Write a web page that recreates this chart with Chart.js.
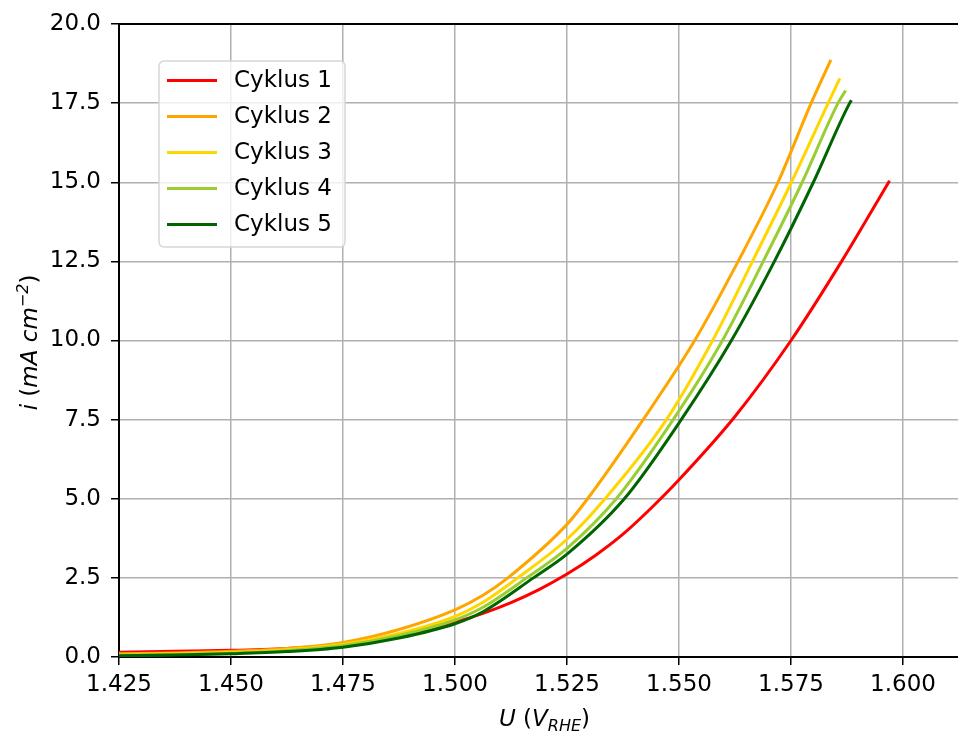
<!DOCTYPE html>
<html>
<head>
<meta charset="utf-8">
<script src="https://cdn.jsdelivr.net/npm/chart.js@4.4.0/dist/chart.umd.min.js"></script>
<style>
  html, body { margin: 0; padding: 0; background: #fff; }
</style>
</head>
<body>
<canvas id="lsv" width="958" height="731"></canvas>
<script>
// cycle names and colours
var cycleNames = ['Cyklus 1', 'Cyklus 2', 'Cyklus 3', 'Cyklus 4', 'Cyklus 5'];
var cycleColors = ['#ff0000', '#ffa500', '#ffd700', '#9acd32', '#006400'];

// potential U (V vs RHE) and current density i (mA cm^-2)
var u1 = [1.425, 1.4375, 1.45, 1.4625, 1.475, 1.4875, 1.5, 1.50625, 1.5125, 1.51875, 1.525, 1.53125, 1.5375, 1.54375, 1.55, 1.5625, 1.575, 1.5863, 1.597];
var i1 = [0.15, 0.18, 0.21, 0.27, 0.39, 0.68, 1.10, 1.38, 1.72, 2.13, 2.62, 3.20, 3.88, 4.70, 5.60, 7.60, 10.0, 12.5, 15.05];

var u2 = [1.425, 1.4375, 1.45, 1.4625, 1.475, 1.4875, 1.5, 1.50625, 1.5118, 1.525, 1.5296, 1.5420, 1.5535, 1.5632, 1.5721, 1.5795, 1.5839];
var i2 = [0.10, 0.13, 0.18, 0.27, 0.46, 0.87, 1.49, 1.95, 2.5, 4.19, 5.0, 7.5, 10.0, 12.5, 15.0, 17.5, 18.87];

var u3 = [1.425, 1.4375, 1.45, 1.4625, 1.475, 1.4875, 1.5, 1.50625, 1.5140, 1.525, 1.5335, 1.5472, 1.5575, 1.5664, 1.5751, 1.5833, 1.5859];
var i3 = [0.07, 0.10, 0.14, 0.23, 0.40, 0.74, 1.28, 1.73, 2.5, 3.72, 5.0, 7.5, 10.0, 12.5, 15.0, 17.5, 18.28];

var u4 = [1.425, 1.4375, 1.45, 1.4625, 1.475, 1.4875, 1.5, 1.50625, 1.5160, 1.525, 1.5360, 1.5487, 1.5597, 1.5688, 1.5775, 1.5855, 1.5872];
var i4 = [0.06, 0.08, 0.12, 0.20, 0.36, 0.68, 1.17, 1.57, 2.5, 3.43, 5.0, 7.5, 10.0, 12.5, 15.0, 17.5, 17.90];

var u5 = [1.425, 1.4375, 1.45, 1.4625, 1.475, 1.4875, 1.5, 1.50625, 1.5175, 1.525, 1.5378, 1.5505, 1.5617, 1.5713, 1.5800, 1.5881, 1.5885];
var i5 = [0.04, 0.06, 0.10, 0.17, 0.31, 0.60, 1.05, 1.43, 2.5, 3.25, 5.0, 7.5, 10.0, 12.5, 15.0, 17.5, 17.59];

var xTicks = [1.425, 1.45, 1.475, 1.5, 1.525, 1.55, 1.575, 1.6];
var yTicks = [0, 2.5, 5, 7.5, 10, 12.5, 15, 17.5, 20];

var FONT = '"DejaVu Sans", sans-serif';
var FS = 23;

function pts(u, i) {
    return u.map(function (v, k) { return { x: v, y: i[k] }; });
}

var series = [[u1, i1], [u2, i2], [u3, i3], [u4, i4], [u5, i5]];
var datasets = series.map(function (s, k) {
    return {
        label: cycleNames[k],
        data: pts(s[0], s[1]),
        borderColor: cycleColors[k],
        backgroundColor: cycleColors[k],
        borderWidth: 3,
        pointRadius: 0,
        cubicInterpolationMode: 'monotone',
        order: series.length - 1 - k
    };
});

// draws pieces of text (some italic, some sub/superscript) in a row, centred on x
function drawRuns(ctx, runs, x, y) {
    var total = 0;
    runs.forEach(function (r) {
        ctx.font = (r[1] ? 'italic ' : '') + r[2] + 'px ' + FONT;
        r.w = ctx.measureText(r[0]).width;
        total += r.w;
    });
    var cx = x - total / 2;
    ctx.textAlign = 'left';
    ctx.textBaseline = 'alphabetic';
    runs.forEach(function (r) {
        ctx.font = (r[1] ? 'italic ' : '') + r[2] + 'px ' + FONT;
        ctx.fillText(r[0], cx, y + r[3]);
        cx += r.w;
    });
}

var extras = {
    id: 'extras',
    afterDraw: function (chart) {
        var ctx = chart.ctx, a = chart.chartArea;
        ctx.save();
        // top spine
        ctx.strokeStyle = '#000';
        ctx.lineWidth = 2;
        ctx.beginPath();
        ctx.moveTo(a.left, a.top);
        ctx.lineTo(a.right, a.top);
        ctx.stroke();

        // legend box
        var lx = a.left + 40, ly = a.top + 37, lw = 186, lh = 186, rad = 5;
        ctx.fillStyle = 'rgba(255,255,255,0.8)';
        ctx.strokeStyle = '#d6d6d6';
        ctx.lineWidth = 1.5;
        ctx.beginPath();
        ctx.roundRect(lx, ly, lw, lh, rad);
        ctx.fill();
        ctx.stroke();
        chart.data.datasets.forEach(function (ds, k) {
            var yy = ly + 19.5 + k * 36;
            ctx.strokeStyle = ds.borderColor;
            ctx.lineWidth = 3;
            ctx.beginPath();
            ctx.moveTo(lx + 8, yy);
            ctx.lineTo(lx + 58, yy);
            ctx.stroke();
            ctx.fillStyle = '#000';
            ctx.font = FS + 'px ' + FONT;
            ctx.textAlign = 'left';
            ctx.textBaseline = 'middle';
            ctx.fillText(ds.label, lx + 75, yy + 1);
        });

        // axis titles
        ctx.fillStyle = '#000';
        drawRuns(ctx, [['U', true, FS, 0], [' (', false, FS, 0], ['V', true, FS, 0], ['RHE', true, 16, 5], [')', false, FS, 0]],
            (a.left + a.right) / 2 + 6, 726);
        ctx.translate(37, (a.top + a.bottom) / 2 + 2);
        ctx.rotate(-Math.PI / 2);
        drawRuns(ctx, [['i', true, FS, 0], [' (', false, FS, 0], ['mA cm', true, FS, 0], ['\u22122', true, 16, -9], [')', false, FS, 0]], 0, 0);
        ctx.restore();
    }
};

var ctx = document.getElementById('lsv').getContext('2d');
var chart = new Chart(ctx, {
    type: 'line',
    data: { datasets: datasets },
    plugins: [extras],
    options: {
        responsive: false,
        animation: false,
        devicePixelRatio: 1,
        layout: { padding: { top: 24, right: 0, left: 0, bottom: 0 } },
        plugins: { legend: { display: false }, tooltip: { enabled: false } },
        scales: {
            x: {
                type: 'linear',
                min: 1.425,
                max: 1.61228,
                afterBuildTicks: function (s) { s.ticks = xTicks.map(function (v) { return { value: v }; }); },
                afterFit: function (s) { s.height = 74; },
                ticks: {
                    color: '#000', padding: 6, maxRotation: 0, autoSkip: false,
                    font: { family: FONT, size: FS },
                    callback: function (v) { return Number(v).toFixed(3); }
                },
                grid: { color: '#b0b0b0', lineWidth: 1.5, tickColor: '#000', tickLength: 8, tickWidth: 1.5 },
                border: { display: true, color: '#000', width: 2 }
            },
            y: {
                min: 0,
                max: 20,
                afterBuildTicks: function (s) { s.ticks = yTicks.map(function (v) { return { value: v }; }); },
                afterFit: function (s) { s.width = 119; },
                ticks: {
                    color: '#000', padding: 10, autoSkip: false,
                    font: { family: FONT, size: FS },
                    callback: function (v) { return Number(v).toFixed(1); }
                },
                grid: { color: '#b0b0b0', lineWidth: 1.5, tickColor: '#000', tickLength: 8, tickWidth: 1.5 },
                border: { display: true, color: '#000', width: 2 }
            }
        }
    }
});
</script>
</body>
</html>
